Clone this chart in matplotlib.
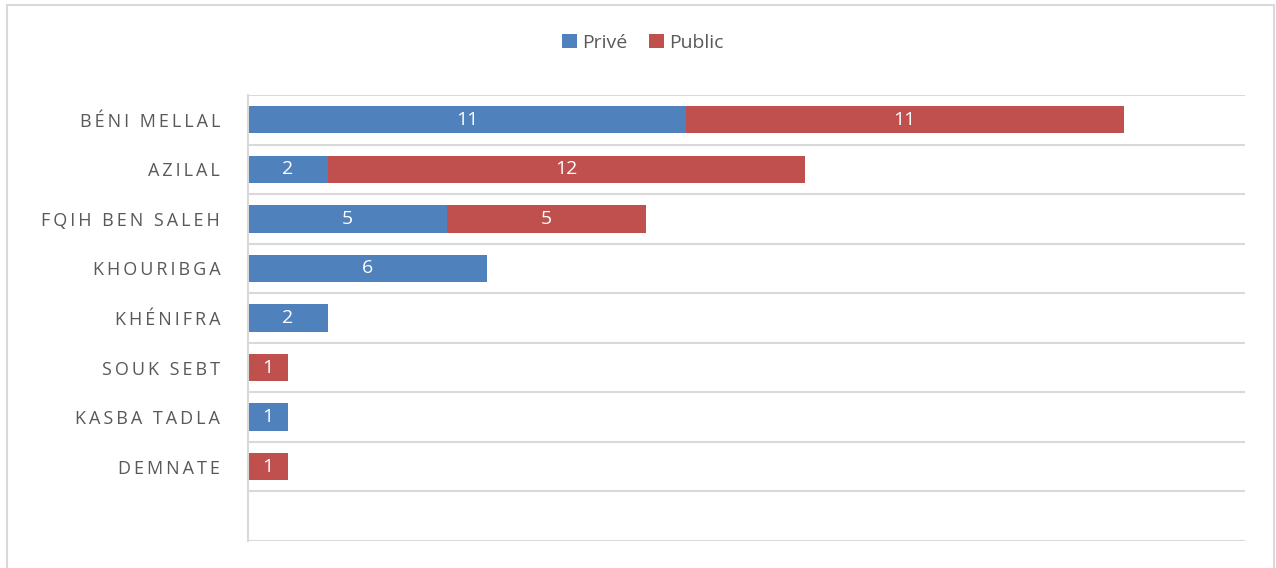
import matplotlib
matplotlib.use('Agg')
import matplotlib.pyplot as plt
from matplotlib.patches import Rectangle

# data (top to bottom)
villes = ['BÉNI MELLAL', 'AZILAL', 'FQIH BEN SALEH', 'KHOURIBGA',
          'KHÉNIFRA', 'SOUK SEBT', 'KASBA TADLA', 'DEMNATE']
prive = [11, 2, 5, 6, 2, 0, 1, 0]
public = [11, 12, 5, 0, 0, 1, 0, 1]

BLUE = '#4F81BD'
RED = '#C0504D'
TXT = '#595959'
GRID = '#D9D9D9'

plt.rcParams['font.family'] = ['Open Sans', 'DejaVu Sans']

W, H = 1276, 568
fig = plt.figure(figsize=(W / 100, H / 100), dpi=100)
ax = fig.add_axes([248 / W, 1 - 541 / H, (1245 - 248) / W, (541 - 95) / H])

# outer chart border
fig.patches.append(Rectangle((7 / W, -0.01), (1274 - 7) / W, 1.01 - 5 / H,
                             transform=fig.transFigure, fill=False,
                             edgecolor=GRID, linewidth=1.5))

ypos = list(range(len(villes)))
h = 0.55
b1 = ax.barh(ypos, prive, height=h, color=BLUE, label='Privé')
b2 = ax.barh(ypos, public, height=h, left=prive, color=RED, label='Public')

for bars, vals in ((b1, prive), (b2, public)):
    for rect, v in zip(bars, vals):
        if v > 0:
            ax.text(rect.get_x() + rect.get_width() / 2,
                    rect.get_y() + rect.get_height() / 2, str(v),
                    ha='center', va='center', color='white', fontsize=14)

ax.set_xlim(0, 25.05)
ax.set_ylim(8.5, -0.5)

# letter-spaced category labels
spaced = ['\u2009'.join(list(v)) for v in villes]
ax.set_yticks(ypos)
ax.set_yticklabels(spaced, fontsize=13, color=TXT)
ax.set_yticks([i - 0.5 for i in range(10)], minor=True)
ax.tick_params(axis='y', which='both', length=0, pad=20)
ax.set_xticks([])
ax.grid(axis='y', which='minor', color=GRID, linewidth=1.5)
ax.set_axisbelow(True)

for s in ('top', 'right', 'bottom'):
    ax.spines[s].set_visible(False)
ax.spines['left'].set_color(GRID)
ax.spines['left'].set_linewidth(1.5)

fig.legend(handles=[b1, b2], labels=['Privé', 'Public'],
           loc='center', bbox_to_anchor=(643 / W, 1 - 43 / H), ncol=2,
           frameon=False, fontsize=14, labelcolor=TXT,
           handlelength=0.75, handleheight=0.75, handletextpad=0.3,
           columnspacing=1.1)

fig.savefig('out.png', dpi=100)
